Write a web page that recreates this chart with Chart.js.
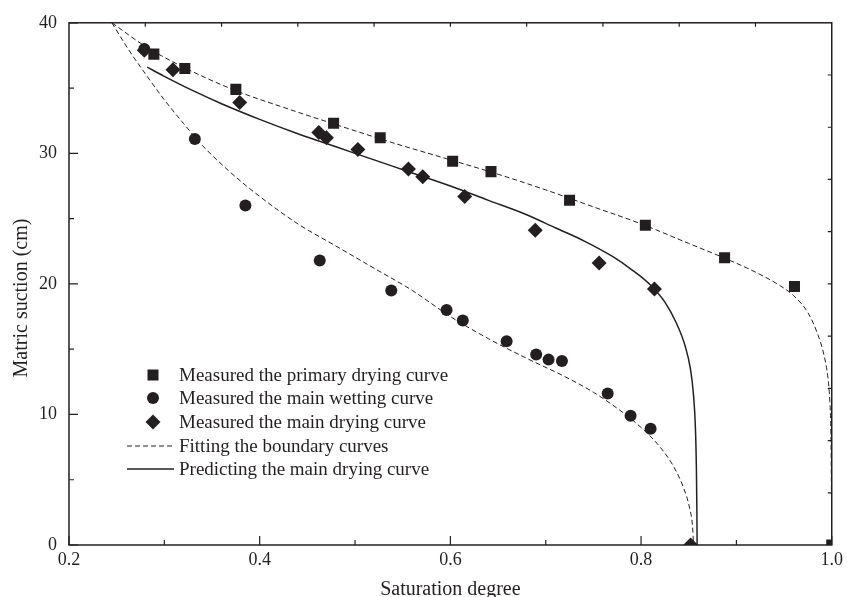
<!DOCTYPE html>
<html>
<head>
<meta charset="utf-8">
<script src="https://cdn.jsdelivr.net/npm/chart.js@4.4.1/dist/chart.umd.min.js"></script>
<style>
  html, body { margin: 0; padding: 0; background: #fff; }
</style>
</head>
<body>
<canvas id="grafico" width="847" height="597"></canvas>
<script>
// ---------- datos ----------
// primary drying curve (cuadrados)
const primaryS = [0.289, 0.3215, 0.375, 0.4775, 0.5264, 0.6024, 0.6426, 0.725, 0.8045, 0.8876, 0.9609, 1.0];
const primaryV = [37.6, 36.5, 34.9, 32.3, 31.2, 29.4, 28.6, 26.4, 24.5, 22.0, 19.8, 0];

// main wetting curve (círculos)
const wettingS = [0.279, 0.332, 0.385, 0.463, 0.538, 0.596, 0.613, 0.659, 0.690, 0.703, 0.717, 0.765, 0.789, 0.810];
const wettingV = [38.0, 31.1, 26.0, 21.8, 19.5, 18.0, 17.2, 15.6, 14.6, 14.2, 14.1, 11.6, 9.9, 8.9];

// main drying curve (rombos)
const dryingS = [0.279, 0.309, 0.379, 0.462, 0.470, 0.503, 0.556, 0.571, 0.615, 0.689, 0.756, 0.814, 0.852];
const dryingV = [37.9, 36.4, 33.9, 31.6, 31.2, 30.3, 28.8, 28.2, 26.7, 24.1, 21.6, 19.6, 0];

// fitted boundary curves (discontinuas)
const fitUpperS = [0.245, 0.28, 0.32, 0.375, 0.43, 0.48, 0.54, 0.6, 0.65, 0.7, 0.75, 0.8, 0.85, 0.89, 0.92, 0.945, 0.96, 0.975, 0.985, 0.992, 0.996, 0.998, 0.999, 0.9995, 1.0];
const fitUpperV = [40, 38.2, 36.6, 34.8, 33.4, 32.2, 30.8, 29.5, 28.4, 27.2, 25.9, 24.6, 23.1, 21.9, 20.9, 19.9, 19.1, 17.8, 16.2, 14.5, 12.8, 11.0, 9.0, 6.0, 0];
const fitLowerS = [0.245, 0.262, 0.28, 0.30, 0.32, 0.34, 0.37, 0.40, 0.44, 0.48, 0.52, 0.56, 0.60, 0.64, 0.68, 0.72, 0.75, 0.78, 0.80, 0.82, 0.835, 0.845, 0.851, 0.854, 0.855];
const fitLowerV = [40, 38.0, 36.1, 34.1, 32.3, 30.6, 28.5, 26.7, 24.6, 22.9, 21.2, 19.5, 17.5, 15.8, 14.3, 12.9, 11.7, 10.2, 9.0, 7.5, 5.9, 4.3, 2.8, 1.4, 0];

// predicted main drying curve (continua)
const predS = [0.282, 0.30, 0.33, 0.36, 0.40, 0.44, 0.48, 0.52, 0.56, 0.60, 0.64, 0.68, 0.71, 0.74, 0.77, 0.79, 0.81, 0.825, 0.837, 0.846, 0.852, 0.855, 0.857, 0.858, 0.8585, 0.8588];
const predV = [36.6, 35.9, 34.8, 33.8, 32.6, 31.5, 30.5, 29.5, 28.5, 27.5, 26.4, 25.3, 24.3, 23.3, 22.1, 21.1, 19.9, 18.6, 17.0, 15.3, 13.4, 11.5, 9.0, 6.0, 3.0, 0];

// marcas de los ejes
const xMajor = [0.2, 0.4, 0.6, 0.8, 1.0];
const xMinor = [0.3, 0.5, 0.7, 0.9];
const yMajor = [0, 10, 20, 30, 40];
const yMinor = [5, 15, 25, 35];
const xTopTicks = [0.28, 0.36, 0.44, 0.52, 0.6, 0.68, 0.76, 0.84, 0.92];
const yRightTicks = [4, 8, 12, 16, 20, 24, 28, 32, 36];

const legendLabels = [
  'Measured the primary drying curve',
  'Measured the main wetting curve',
  'Measured the main drying curve',
  'Fitting the boundary curves',
  'Predicting the main drying curve'
];

const INK = '#231f20';
const SERIF = '"Liberation Serif", "Times New Roman", serif';

function toPoints(xs, ys) {
  return xs.map((x, i) => ({ x: x, y: ys[i] }));
}

// ---------- marco, marcas, título Y y leyenda ----------
const marcoPlugin = {
  id: 'marco',
  afterDatasetsDraw(chart) {
    const { ctx, chartArea: a, scales: { x, y } } = chart;
    ctx.save();
    ctx.strokeStyle = INK;
    ctx.lineWidth = 1.5;
    ctx.strokeRect(a.left, a.top, a.right - a.left, a.bottom - a.top);

    ctx.lineWidth = 1.2;
    ctx.beginPath();
    xMajor.forEach(v => { const p = x.getPixelForValue(v); ctx.moveTo(p, a.bottom); ctx.lineTo(p, a.bottom - 9); });
    xMinor.forEach(v => { const p = x.getPixelForValue(v); ctx.moveTo(p, a.bottom); ctx.lineTo(p, a.bottom - 5); });
    yMajor.forEach(v => { const p = y.getPixelForValue(v); ctx.moveTo(a.left, p); ctx.lineTo(a.left + 9, p); });
    yMinor.forEach(v => { const p = y.getPixelForValue(v); ctx.moveTo(a.left, p); ctx.lineTo(a.left + 5, p); });
    xTopTicks.forEach(v => { const p = x.getPixelForValue(v); ctx.moveTo(p, a.top); ctx.lineTo(p, a.top + 4); });
    yRightTicks.forEach(v => { const p = y.getPixelForValue(v); ctx.moveTo(a.right, p); ctx.lineTo(a.right - 4, p); });
    ctx.stroke();
    ctx.restore();
  },
  afterDraw(chart) {
    const { ctx } = chart;
    ctx.save();
    // título del eje Y
    ctx.fillStyle = INK;
    ctx.font = '20px ' + SERIF;
    ctx.textAlign = 'center';
    ctx.textBaseline = 'middle';
    ctx.translate(22, 298);
    ctx.rotate(-Math.PI / 2);
    ctx.fillText('Matric suction (cm)', 0, 0);
    ctx.restore();

    // leyenda
    ctx.save();
    const filas = [375, 398, 422, 446, 469];
    const mx = 153;
    ctx.fillStyle = INK;
    ctx.strokeStyle = INK;
    // cuadrado
    ctx.fillRect(mx - 5.5, filas[0] - 5.5, 11, 11);
    // círculo
    ctx.beginPath(); ctx.arc(mx, filas[1], 6, 0, Math.PI * 2); ctx.fill();
    // rombo
    ctx.beginPath();
    ctx.moveTo(mx, filas[2] - 7.5); ctx.lineTo(mx + 7.5, filas[2]);
    ctx.lineTo(mx, filas[2] + 7.5); ctx.lineTo(mx - 7.5, filas[2]);
    ctx.closePath(); ctx.fill();
    // línea discontinua
    ctx.lineWidth = 1;
    ctx.setLineDash([5, 3]);
    ctx.beginPath(); ctx.moveTo(127, filas[3]); ctx.lineTo(174, filas[3]); ctx.stroke();
    // línea continua
    ctx.setLineDash([]);
    ctx.lineWidth = 1.5;
    ctx.beginPath(); ctx.moveTo(127, filas[4]); ctx.lineTo(174, filas[4]); ctx.stroke();

    ctx.font = '19px ' + SERIF;
    ctx.textAlign = 'left';
    ctx.textBaseline = 'middle';
    legendLabels.forEach((t, i) => ctx.fillText(t, 179, filas[i] + 1));
    ctx.restore();
  }
};

// ---------- gráfico ----------
const ctx = document.getElementById('grafico').getContext('2d');
const curva = { showLine: true, pointRadius: 0, borderColor: INK, cubicInterpolationMode: 'monotone', fill: false };
new Chart(ctx, {
  type: 'scatter',
  data: {
    datasets: [
      Object.assign({ label: legendLabels[3], data: toPoints(fitUpperS, fitUpperV), borderWidth: 1, borderDash: [5, 3] }, curva),
      Object.assign({ label: legendLabels[3], data: toPoints(fitLowerS, fitLowerV), borderWidth: 1, borderDash: [5, 3] }, curva),
      Object.assign({ label: legendLabels[4], data: toPoints(predS, predV), borderWidth: 1.5 }, curva),
      {
        label: legendLabels[0],
        data: toPoints(primaryS, primaryV),
        pointStyle: 'rect', pointRadius: 7.8, backgroundColor: INK, borderColor: INK, borderWidth: 0
      },
      {
        label: legendLabels[1],
        data: toPoints(wettingS, wettingV),
        pointStyle: 'circle', pointRadius: 6, backgroundColor: INK, borderColor: INK, borderWidth: 0
      },
      {
        label: legendLabels[2],
        data: toPoints(dryingS, dryingV),
        pointStyle: 'rectRot', pointRadius: 7.5, backgroundColor: INK, borderColor: INK, borderWidth: 0
      }
    ]
  },
  options: {
    responsive: false,
    animation: false,
    events: [],
    layout: { padding: { top: 20, right: 14, left: 0, bottom: 0 } },
    plugins: {
      legend: { display: false },
      tooltip: { enabled: false }
    },
    scales: {
      x: {
        type: 'linear', min: 0.2, max: 1.0,
        grid: { display: false, drawTicks: false },
        border: { display: false },
        ticks: {
          stepSize: 0.2, padding: 4, color: INK,
          font: { family: SERIF, size: 18 },
          callback: v => Number(v).toFixed(1)
        },
        title: {
          display: true, text: 'Saturation degree', color: INK,
          font: { family: SERIF, size: 20, lineHeight: 1 }, padding: { top: 0, bottom: -3 }
        },
        afterFit: s => { s.height = 52; }
      },
      y: {
        type: 'linear', min: 0, max: 40,
        grid: { display: false, drawTicks: false },
        border: { display: false },
        ticks: {
          stepSize: 10, padding: 12, color: INK,
          font: { family: SERIF, size: 18 }
        },
        afterFit: s => { s.width = 69; }
      }
    }
  },
  plugins: [marcoPlugin]
});
</script>
</body>
</html>
